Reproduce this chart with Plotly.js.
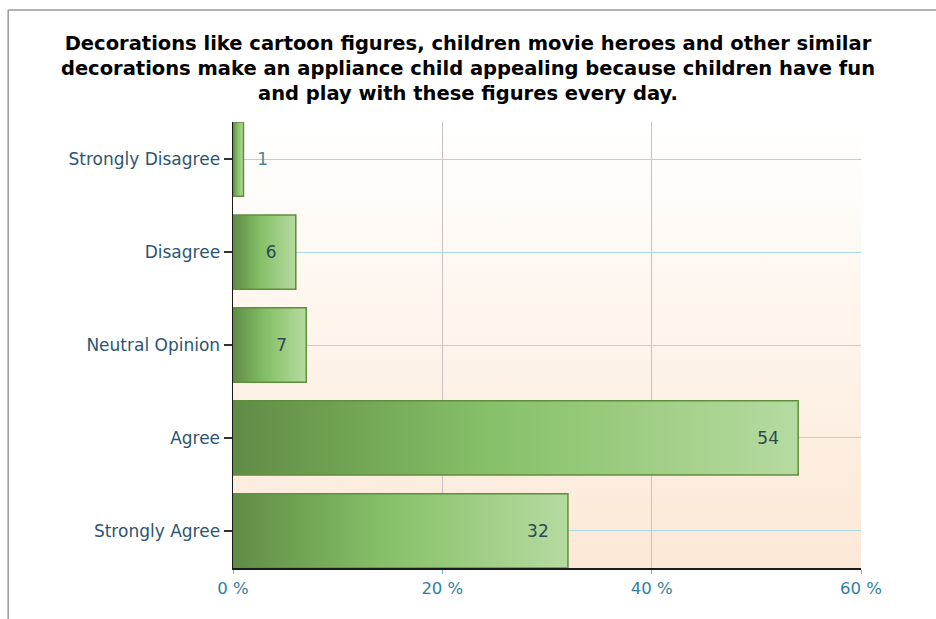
<!DOCTYPE html>
<html>
<head>
<meta charset="utf-8">
<script src="https://cdn.plot.ly/plotly-3.0.1.min.js"></script>
<style>html,body{margin:0;padding:0;background:#fff;}#chart{width:936px;height:619px;}</style>
</head>
<body>
<div id="chart"></div>
<script>
var categories = ["Strongly Disagree", "Disagree", "Neutral Opinion", "Agree", "Strongly Agree"];
var percentValues = [1, 6, 7, 54, 32];
var xTickValues = [0, 20, 40, 60];
var xTickLabels = ["0 %", "20 %", "40 %", "60 %"];
var chartTitle = "Decorations like cartoon figures, children movie heroes and other similar<br>decorations make an appliance child appealing because children have fun<br>and play with these figures every day.";

var NB = "\u00a0";
var trace = {
  type: "bar",
  orientation: "h",
  y: categories,
  x: percentValues,
  text: percentValues.map(function (v) { return NB + NB + v + NB + NB + NB; }),
  textposition: "auto",
  insidetextanchor: "end",
  textangle: 0,
  cliponaxis: false,
  insidetextfont: {family: "DejaVu Sans, sans-serif", size: 17, color: "#2c4a52"},
  outsidetextfont: {family: "DejaVu Sans, sans-serif", size: 17, color: "#4a8a8e"},
  width: 0.8,
  marker: {color: "#7fb862", line: {color: "#5f8f3e", width: 1.5}},
  hoverinfo: "none"
};

var layout = {
  width: 936, height: 619,
  margin: {l: 233, r: 75, t: 122, b: 51, pad: 0},
  paper_bgcolor: "#ffffff",
  plot_bgcolor: "#fdf3ea",
  showlegend: false,
  title: {
    text: "<b>" + chartTitle + "</b>",
    x: 0.5, xref: "container", xanchor: "center",
    y: 0.92, yref: "container", yanchor: "top",
    font: {family: "DejaVu Sans, sans-serif", size: 19.5, color: "#000000"}
  },
  bargap: 0.2,
  xaxis: {
    range: [0, 60],
    tickvals: xTickValues,
    ticktext: xTickLabels,
    showgrid: true,
    gridcolor: "#cdbfbf",
    gridwidth: 1,
    zeroline: false,
    showline: true,
    linecolor: "#1a1a1a",
    linewidth: 2,
    ticks: "outside",
    ticklen: 4,
    tickcolor: "#6ab0d0",
    tickfont: {family: "DejaVu Sans, sans-serif", size: 16.5, color: "#2f7f9c"},
    fixedrange: true
  },
  yaxis: {
    type: "category",
    categoryorder: "array",
    categoryarray: categories,
    range: [4.4, -0.4],
    showgrid: true,
    gridcolor: "#a9d8ea",
    gridwidth: 1,
    zeroline: false,
    showline: true,
    linecolor: "#1a1a1a",
    linewidth: 1.5,
    ticks: "outside",
    ticklen: 8,
    tickwidth: 1.5,
    tickcolor: "#333333",
    tickfont: {family: "DejaVu Sans, sans-serif", size: 17, color: "#2d5470"},
    fixedrange: true
  },
  shapes: [
    {type: "line", xref: "paper", yref: "paper", x0: -0.358, x1: 1.2, y0: 1.251, y1: 1.251, line: {color: "#9a9a9a", width: 1.5}},
    {type: "line", xref: "paper", yref: "paper", x0: -0.358, x1: -0.358, y0: 1.251, y1: -0.2, line: {color: "#9a9a9a", width: 1.5}}
  ]
};

Plotly.newPlot("chart", [trace], layout, {displayModeBar: false, staticPlot: true}).then(function (gd) {
  var svgNS = "http://www.w3.org/2000/svg";
  var svg = gd.querySelector(".main-svg");
  var defs = svg.querySelector("defs");
  if (!defs) { defs = document.createElementNS(svgNS, "defs"); svg.insertBefore(defs, svg.firstChild); }
  function addGrad(id, x2, y2, stops) {
    var g = document.createElementNS(svgNS, "linearGradient");
    g.setAttribute("id", id);
    g.setAttribute("x1", "0"); g.setAttribute("y1", "0");
    g.setAttribute("x2", x2); g.setAttribute("y2", y2);
    stops.forEach(function (s) {
      var st = document.createElementNS(svgNS, "stop");
      st.setAttribute("offset", s[0]);
      st.setAttribute("stop-color", s[1]);
      g.appendChild(st);
    });
    defs.appendChild(g);
  }
  addGrad("barGrad", "1", "0", [["0", "#5f8c45"], ["0.45", "#86c068"], ["1", "#b6dba0"]]);
  addGrad("bgGrad", "0", "1", [["0", "#ffffff"], ["1", "#fce8d6"]]);
  gd.querySelectorAll(".bars .point path").forEach(function (p) {
    p.style.fill = "url(#barGrad)";
  });
  var bg = gd.querySelector(".bglayer rect.bg");
  if (bg) bg.style.fill = "url(#bgGrad)";
});
</script>
</body>
</html>
